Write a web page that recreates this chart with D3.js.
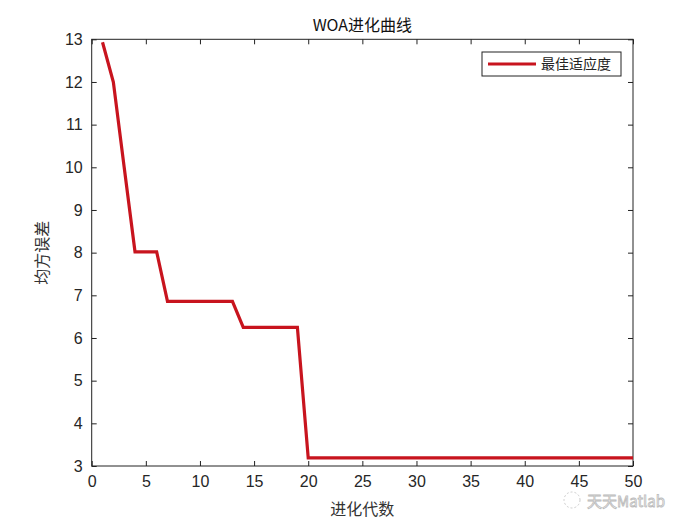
<!DOCTYPE html>
<html><head><meta charset="utf-8">
<script src="https://cdn.jsdelivr.net/npm/d3@7"></script>
<style>body{margin:0;background:#fff}svg{display:block}</style>
</head><body>
<script>
const generations = d3.range(1, 51);
const fitness = [12.93, 12.0, 10.0, 8.02, 8.02, 8.02, 6.86, 6.86, 6.86, 6.86, 6.86, 6.86, 6.86,
  6.25, 6.25, 6.25, 6.25, 6.25, 6.25,
  3.19, 3.19, 3.19, 3.19, 3.19, 3.19, 3.19, 3.19, 3.19, 3.19, 3.19, 3.19, 3.19, 3.19, 3.19, 3.19,
  3.19, 3.19, 3.19, 3.19, 3.19, 3.19, 3.19, 3.19, 3.19, 3.19, 3.19, 3.19, 3.19, 3.19, 3.19];
const xTicks = [0, 5, 10, 15, 20, 25, 30, 35, 40, 45, 50];
const yTicks = [3, 4, 5, 6, 7, 8, 9, 10, 11, 12, 13];
const title = "WOA进化曲线";
const xLabel = "进化代数";
const yLabel = "均方误差";
const legendLabel = "最佳适应度";

const W = 700, H = 525;
const m = {left: 91.7, top: 39.3, right: 700 - 633, bottom: 525 - 466};
const svg = d3.select("body").append("svg").attr("width", W).attr("height", H);
const x = d3.scaleLinear().domain([0, 50]).range([m.left, W - m.right]);
const y = d3.scaleLinear().domain([3, 13]).range([H - m.bottom, m.top]);
const tickFont = "'Liberation Sans', Arial, sans-serif";
const cjk = "'Noto Sans CJK SC', sans-serif";

function styleAxis(g) {
  g.select(".domain").remove();
  g.selectAll("line").attr("stroke", "#222").attr("stroke-width", 1);
  g.selectAll("text").attr("font-family", tickFont).attr("font-size", 16).attr("fill", "#262626");
}
svg.append("g").attr("transform", `translate(0,${y(3)})`)
  .call(d3.axisBottom(x).tickValues(xTicks).tickSizeInner(-5).tickSizeOuter(0).tickPadding(10))
  .call(styleAxis);
svg.append("g").attr("transform", `translate(0,${y(13)})`)
  .call(d3.axisTop(x).tickValues(xTicks).tickSizeInner(-5).tickSizeOuter(0).tickFormat(""))
  .call(styleAxis);
svg.append("g").attr("transform", `translate(${x(0)},0)`)
  .call(d3.axisLeft(y).tickValues(yTicks).tickSizeInner(-5).tickSizeOuter(0).tickPadding(9))
  .call(styleAxis);
svg.append("g").attr("transform", `translate(${x(50)},0)`)
  .call(d3.axisRight(y).tickValues(yTicks).tickSizeInner(-5).tickSizeOuter(0).tickFormat(""))
  .call(styleAxis);
svg.append("rect").attr("x", x(0)).attr("y", y(13)).attr("width", x(50) - x(0)).attr("height", y(3) - y(13))
  .attr("fill", "none").attr("stroke", "#222").attr("stroke-width", 1);

const red = "#c8141e";
svg.append("path").datum(generations.map((g, i) => [g, fitness[i]]))
  .attr("d", d3.line().x(d => x(d[0])).y(d => y(d[1])))
  .attr("fill", "none").attr("stroke", red).attr("stroke-width", 3.2).attr("stroke-linejoin", "miter");

svg.append("text").attr("x", (x(0) + x(50)) / 2).attr("y", 31).attr("text-anchor", "middle")
  .attr("font-family", cjk).attr("font-size", 16).attr("fill", "#111").text(title);
svg.append("text").attr("x", (x(0) + x(50)) / 2).attr("y", 515).attr("text-anchor", "middle")
  .attr("font-family", cjk).attr("font-size", 16).attr("fill", "#333").text(xLabel);
svg.append("text").attr("transform", `translate(48,${(y(3) + y(13)) / 2}) rotate(-90)`).attr("text-anchor", "middle")
  .attr("font-family", cjk).attr("font-size", 16).attr("fill", "#333").text(yLabel);

// legend
const lg = svg.append("g");
lg.append("rect").attr("x", 482).attr("y", 52).attr("width", 139).attr("height", 24)
  .attr("fill", "#fff").attr("stroke", "#222").attr("stroke-width", 1);
lg.append("line").attr("x1", 488).attr("x2", 536).attr("y1", 64).attr("y2", 64)
  .attr("stroke", red).attr("stroke-width", 3.2);
lg.append("text").attr("x", 541).attr("y", 69).attr("font-family", cjk).attr("font-size", 14)
  .attr("fill", "#222").text(legendLabel);

// watermark
svg.append("text").attr("x", 587).attr("y", 507)
  .attr("font-family", cjk).attr("font-size", 15).attr("fill", "#fff").attr("stroke", "#bbb").attr("stroke-width", 0.8)
  .text("天天Matlab");
svg.append("circle").attr("cx", 572).attr("cy", 500).attr("r", 8).attr("fill", "none").attr("stroke", "#ccc").attr("stroke-dasharray", "2,2");
</script>
</body></html>
